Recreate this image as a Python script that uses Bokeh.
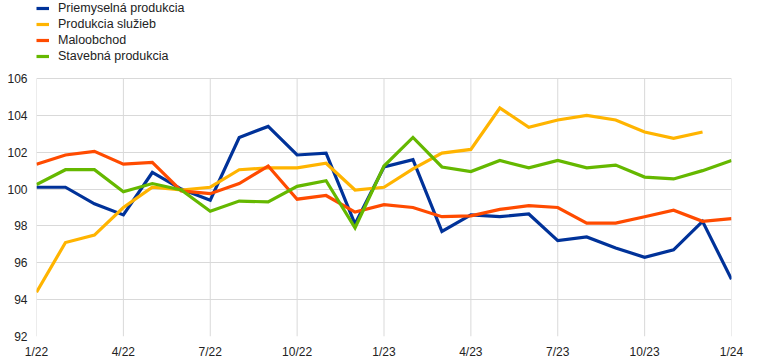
from bokeh.plotting import figure
from bokeh.models import Legend, LegendItem, FixedTicker
from bokeh.embed import file_html
from bokeh.resources import INLINE

months = ["1/22", "2/22", "3/22", "4/22", "5/22", "6/22", "7/22", "8/22", "9/22", "10/22", "11/22", "12/22",
          "1/23", "2/23", "3/23", "4/23", "5/23", "6/23", "7/23", "8/23", "9/23", "10/23", "11/23", "12/23", "1/24"]
tick_labels = ["1/22", "4/22", "7/22", "10/22", "1/23", "4/23", "7/23", "10/23", "1/24"]
y_ticks = [92, 94, 96, 98, 100, 102, 104, 106]

industry = [100.1, 100.1, 99.2, 98.6, 100.9, 100.0, 99.4, 102.8, 103.4, 101.85, 101.95, 98.1,
            101.2, 101.6, 97.7, 98.6, 98.5, 98.65, 97.2, 97.4, 96.8, 96.3, 96.7, 98.25, 95.1]
services = [94.4, 97.1, 97.5, 99.0, 100.1, 99.95, 100.1, 101.05, 101.15, 101.15, 101.4, 99.95,
            100.1, 101.1, 101.95, 102.15, 104.4, 103.35, 103.75, 104.0, 103.75, 103.1, 102.75, 103.1]
retail = [101.35, 101.85, 102.05, 101.35, 101.45, 99.9, 99.75, 100.3, 101.25, 99.45, 99.65, 98.75,
          99.15, 99.0, 98.5, 98.55, 98.9, 99.1, 99.0, 98.15, 98.15, 98.5, 98.85, 98.25, 98.4]
construction = [100.25, 101.05, 101.05, 99.85, 100.3, 99.95, 98.8, 99.35, 99.3, 100.15, 100.45, 97.9,
                101.25, 102.8, 101.2, 100.95, 101.55, 101.15, 101.55, 101.15, 101.3, 100.65, 100.55, 101.0, 101.55]

series_names = ["Priemyselná produkcia", "Produkcia služieb", "Maloobchod", "Stavebná produkcia"]
series_values = [industry, services, retail, construction]
colors = ["#003299", "#FFB400", "#FF4B00", "#65B800"]

FONT = "Liberation Sans"
GRID = "#d9d9d9"

# plot area 258 px for the 14 units 92..106, plus 78 px of headroom above for the legend
y_top = max(y_ticks) + 78 * (max(y_ticks) - min(y_ticks)) / 258

p = figure(width=760, height=361, x_range=(0, len(months) - 1), y_range=(min(y_ticks), y_top),
           output_backend="svg", toolbar_location=None, title=None,
           min_border_left=36, min_border_right=29, min_border_top=0, min_border_bottom=25)
p.outline_line_color = None
p.background_fill_color = "white"
p.border_fill_color = "white"

tick_pos = [months.index(t) for t in tick_labels]

# vertical gridlines limited to the value range
p.segment(x0=tick_pos, y0=[min(y_ticks)] * len(tick_pos), x1=tick_pos, y1=[max(y_ticks)] * len(tick_pos),
          line_color=GRID, line_width=1)

items = []
for name, vals, c in zip(series_names, series_values, colors):
    xs = list(range(len(vals)))
    r = p.line(xs, vals, line_color=c, line_width=3.2, line_join="miter")
    items.append(LegendItem(label=name, renderers=[r]))

p.xaxis.ticker = FixedTicker(ticks=tick_pos)
p.xaxis.major_label_overrides = {i: months[i] for i in tick_pos}
p.yaxis.ticker = FixedTicker(ticks=y_ticks)

for ax in (p.xaxis[0], p.yaxis[0]):
    ax.axis_line_color = None
    ax.major_tick_line_color = None
    ax.minor_tick_line_color = None
    ax.major_tick_out = 0
    ax.major_tick_in = 0
    ax.major_label_text_font = FONT
    ax.major_label_text_font_size = "12px"
    ax.major_label_text_color = "#222222"
p.xaxis.major_label_standoff = 8
p.yaxis.major_label_standoff = 9

p.xgrid.grid_line_color = None
p.ygrid.grid_line_color = GRID

legend = Legend(items=items, location="top_left", orientation="vertical",
                glyph_width=13, glyph_height=16, label_standoff=9, spacing=0,
                padding=0, margin=0, border_line_color=None, background_fill_alpha=0,
                label_text_font=FONT, label_text_font_size="12.5px", label_text_color="#222222",
                label_height=16)
p.add_layout(legend, "center")

open("out.html", "w").write(file_html(p, INLINE))
